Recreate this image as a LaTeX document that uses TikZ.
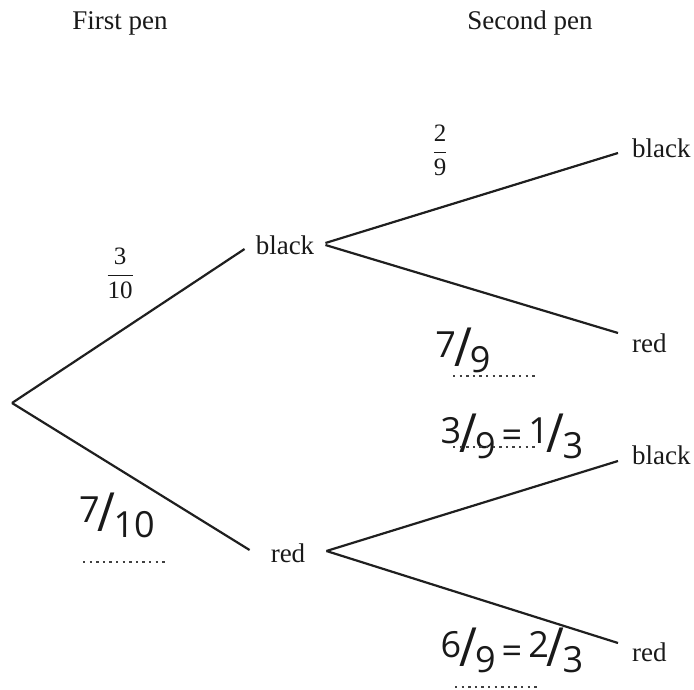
\documentclass[tikz,border=0pt]{standalone}
\usepackage{fontspec}
\setmainfont{Liberation Serif}
\newfontfamily\handfont{Open Sans}
\newcommand{\hslash}{\scalebox{1.35}[1.5]{/}}
\newcommand{\hfr}[2]{\raisebox{9pt}{#1}\hspace{-2pt}\hslash\hspace{-2pt}\raisebox{-6pt}{#2}}
\begin{document}
\begin{tikzpicture}[x=1pt,y=-1pt,
  lbl/.style={font=\fontsize{27}{30}\selectfont, inner sep=0pt, black!90},
  branch/.style={line width=2.2pt, black!88},
  hand/.style={font=\handfont\fontsize{36}{38}\selectfont, inner sep=0pt, black!90},
  dotline/.style={line width=2.6pt, dash pattern=on 2.4pt off 4.2pt, black!75},
  frac/.style={font=\fontsize{25}{27}\selectfont, inner sep=0pt, black!90}]
\useasboundingbox (0,0) rectangle (694,690);
% headings
\node[lbl] (h1) at (120,23) {First pen};
\node[lbl] (h2) at (530,23) {Second pen};
% tree nodes
\coordinate (root) at (12,403);
\node[lbl, inner xsep=11pt] (b1) at (285,245) {black};
\node[lbl, inner xsep=21pt] (r1) at (288,553) {red};
\node[lbl, anchor=west, inner xsep=0pt] (b2) at (632,148) {black};
\node[lbl, anchor=west, inner xsep=0pt] (r2) at (632,343) {red};
\node[lbl, anchor=west, inner xsep=0pt] (b3) at (632,455) {black};
\node[lbl, anchor=west, inner xsep=0pt] (r3) at (632,652) {red};
% branches
\draw[branch] (root) -- ([yshift=-4pt]b1.west);
\draw[branch] (root) -- ([yshift=3pt]r1.west);
\draw[branch] ([yshift=2pt]b1.east) -- ([xshift=-14pt,yshift=-5pt]b2.west);
\draw[branch] ([yshift=0pt]b1.east) -- ([xshift=-14pt,yshift=10pt]r2.west);
\draw[branch] ([yshift=2pt]r1.east) -- ([xshift=-14pt,yshift=-6pt]b3.west);
\draw[branch] ([yshift=2pt]r1.east) -- ([xshift=-14pt,yshift=9pt]r3.west);
% printed fractions
\node[frac] (f1) at (120,273) {$\displaystyle\frac{\mbox{3}}{\mbox{10}}$};
\node[frac] (f2) at (440,150) {$\displaystyle\frac{\mbox{2}}{\mbox{9}}$};
% handwritten fractions
\node[hand] (w1) at (117,515) {\hfr{7}{10}};
\node[hand] (w2) at (463,350) {\hfr{7}{9}};
\node[hand] (w3) at (512,436) {\hfr{3}{9}\,\raisebox{5pt}{=}\,\hfr{1}{3}};
\node[hand] (w4) at (512,650) {\hfr{6}{9}\,\raisebox{3pt}{=}\,\hfr{2}{3}};
% dotted underlines
\coordinate (d1a) at (83,562); \coordinate (d1b) at (165,562);
\coordinate (d2a) at (453,376); \coordinate (d2b) at (537,376);
\coordinate (d3a) at (453,447); \coordinate (d3b) at (537,447);
\coordinate (d4a) at (455,687); \coordinate (d4b) at (537,687);
\draw[dotline] (d1a) -- (d1b);
\draw[dotline] (d2a) -- (d2b);
\draw[dotline] (d3a) -- (d3b);
\draw[dotline] (d4a) -- (d4b);
\end{tikzpicture}
\end{document}
